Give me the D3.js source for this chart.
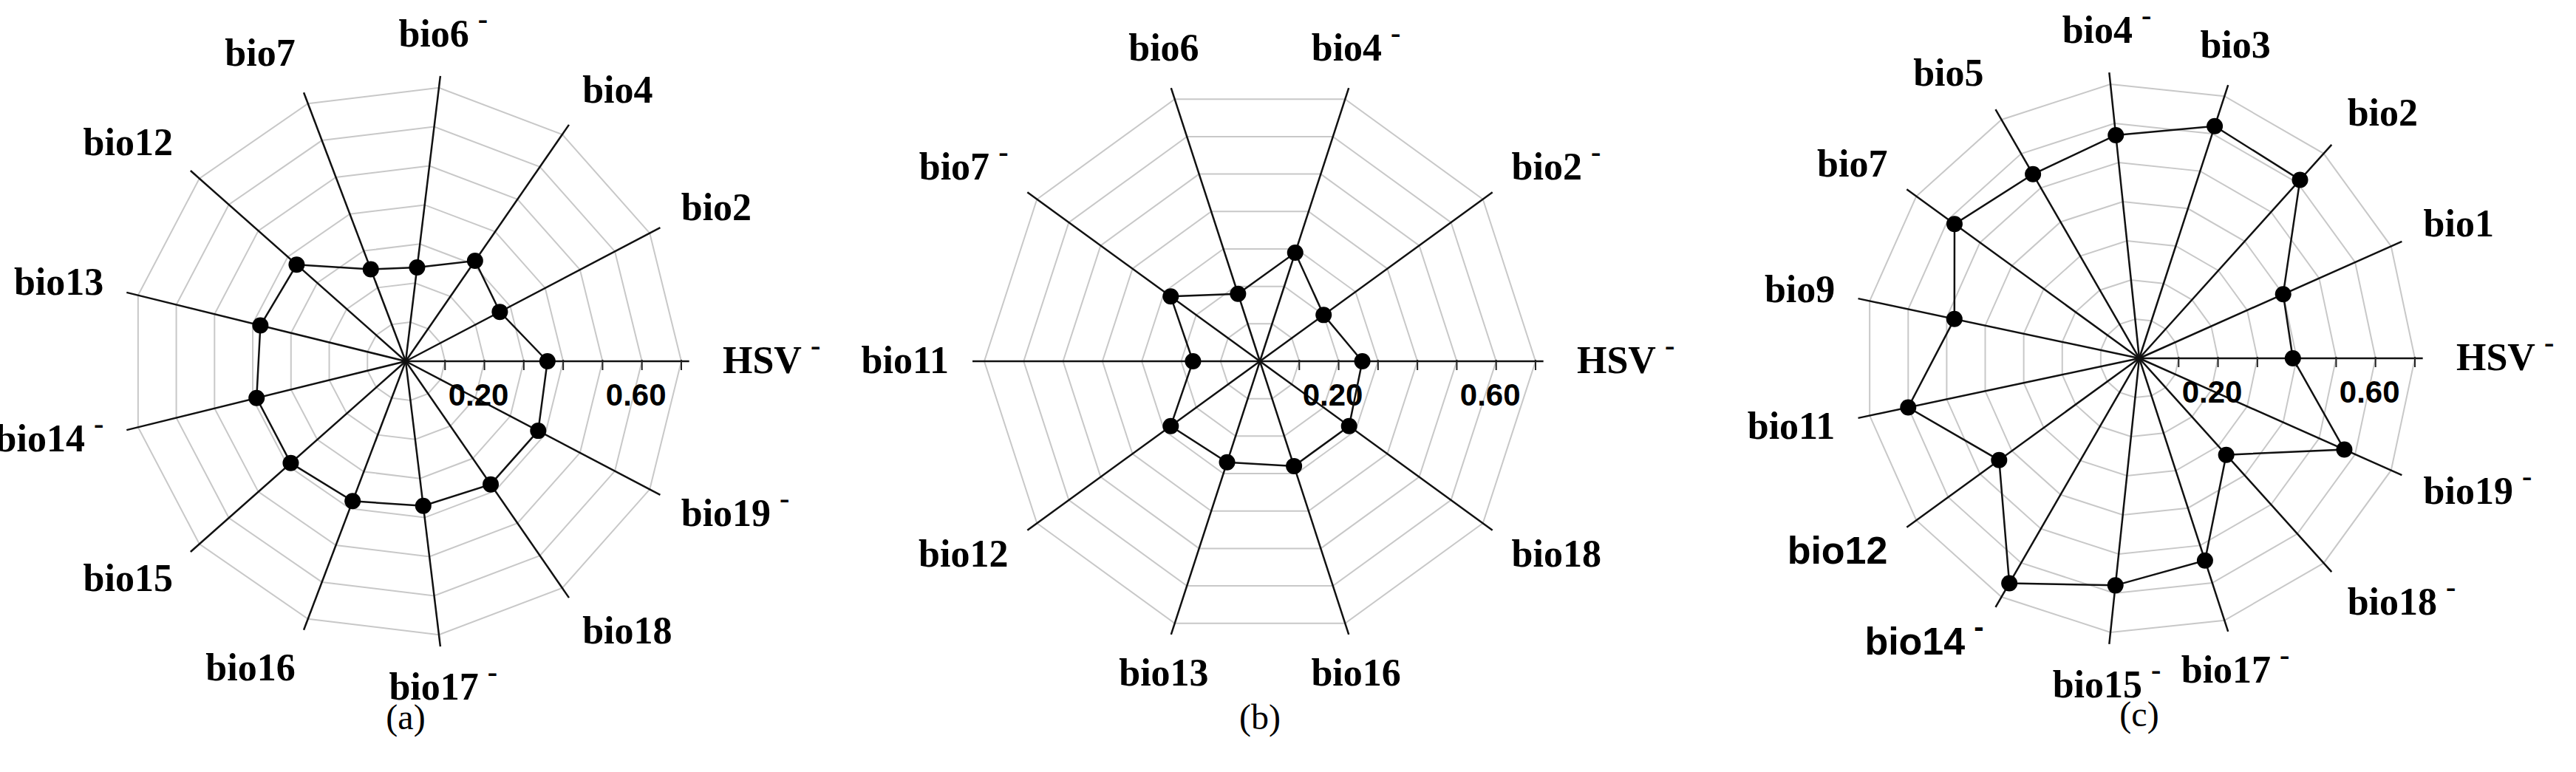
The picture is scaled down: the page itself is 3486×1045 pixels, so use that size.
<!DOCTYPE html>
<html>
<head>
<meta charset="utf-8">
<script src="https://cdn.jsdelivr.net/npm/d3@7"></script>
<style>
  body { margin: 0; background: #fff; }
  .lab { font-family: "Liberation Serif", "Times New Roman", serif; font-weight: bold; font-size: 52px; }
  .sans { font-family: "Liberation Sans", Arial, sans-serif; }
  .tick { font-family: "Liberation Sans", Arial, sans-serif; font-weight: bold; font-size: 42px; }
  .cap { font-family: "Liberation Serif", serif; font-size: 48px; }
</style>
</head>
<body>
<script>
var w = 3486;
var h = 1045;

// panel (a)
var axesA = ["HSV", "bio2", "bio4", "bio6", "bio7", "bio12", "bio13", "bio14", "bio15", "bio16", "bio17", "bio18", "bio19"];
var valuesA = [0.36, 0.27, 0.31, 0.24, 0.25, 0.37, 0.38, 0.39, 0.39, 0.38, 0.37, 0.38, 0.38];
var minusA = ["HSV", "bio6", "bio14", "bio17", "bio19"];

// panel (b)
var axesB = ["HSV", "bio2", "bio4", "bio6", "bio7", "bio11", "bio12", "bio13", "bio16", "bio18"];
var valuesB = [0.26, 0.20, 0.29, 0.18, 0.28, 0.17, 0.28, 0.27, 0.28, 0.28];
var minusB = ["HSV", "bio2", "bio4", "bio7"];

// panel (c)
var axesC = ["HSV", "bio1", "bio2", "bio3", "bio4", "bio5", "bio7", "bio9", "bio11", "bio12", "bio14", "bio15", "bio17", "bio18", "bio19"];
var valuesC = [0.39, 0.40, 0.61, 0.62, 0.57, 0.54, 0.58, 0.48, 0.60, 0.44, 0.66, 0.58, 0.54, 0.33, 0.57];
var minusC = ["HSV", "bio4", "bio14", "bio15", "bio17", "bio18", "bio19"];
var sansC = ["bio12", "bio14"];

var ringValues = [0.1, 0.2, 0.3, 0.4, 0.5, 0.6, 0.7];
var tickLabels = [0.2, 0.6];

var svg = d3.select("body").append("svg")
  .attr("width", w)
  .attr("height", h);

/**
 * Draws one radar panel.
 */
function drawRadar(cx, cy, axes, values, minus, sans, caption) {
  var r = d3.scaleLinear().domain([0, 0.7]).range([0, 373]);
  var n = axes.length;
  var ang = d3.scaleLinear().domain([0, n]).range([0, 2 * Math.PI]);
  var pt = (v, i) => [r(v) * Math.cos(ang(i)), -r(v) * Math.sin(ang(i))];

  var g = svg.append("g").attr("transform", "translate(" + [cx, cy] + ")");

  // grid rings
  g.selectAll(".ring").data(ringValues).enter().append("polygon")
    .attr("points", v => d3.range(n).map(i => pt(v, i).join(",")).join(" "))
    .attr("fill", "none")
    .attr("stroke", "#c8c8c8")
    .attr("stroke-width", 2);

  // axes
  g.selectAll(".ax").data(axes).enter().append("line")
    .attr("x1", 0).attr("y1", 0)
    .attr("x2", (d, i) => pt(i == 0 ? 0.72 : 0.73, i)[0])
    .attr("y2", (d, i) => pt(i == 0 ? 0.72 : 0.73, i)[1])
    .attr("stroke", "#111")
    .attr("stroke-width", 2.5);

  // ticks on the HSV axis
  g.selectAll(".tk").data(ringValues).enter().append("line")
    .attr("x1", d => r(d)).attr("x2", d => r(d))
    .attr("y1", -2).attr("y2", 12)
    .attr("stroke", "#222").attr("stroke-width", 2);

  g.selectAll(".tl").data(tickLabels).enter().append("text")
    .attr("class", "tick")
    .attr("x", d => r(d) - 8)
    .attr("y", 60)
    .attr("text-anchor", "middle")
    .text(d => d.toFixed(2));

  // data line and dots
  g.append("polygon")
    .attr("points", values.map((v, i) => pt(v, i).join(",")).join(" "))
    .attr("fill", "none")
    .attr("stroke", "#111")
    .attr("stroke-width", 2.5);

  g.selectAll(".dot").data(values).enter().append("circle")
    .attr("cx", (v, i) => pt(v, i)[0])
    .attr("cy", (v, i) => pt(v, i)[1])
    .attr("r", 11)
    .attr("fill", "#000");

  // axis labels
  var lab = g.selectAll(".lb").data(axes).enter().append("text")
    .attr("class", d => "lab" + (sans.indexOf(d) >= 0 ? " sans" : ""))
    .attr("x", (d, i) => pt(0.79, i)[0] + (i == 0 ? 8 : 0))
    .attr("y", (d, i) => pt(0.79, i)[1] + 16 - 24 * Math.sin(ang(i)))
    .attr("text-anchor", (d, i) => {
      var c = Math.cos(ang(i));
      return i == 0 ? "start" : c > 0.35 ? "start" : c < -0.35 ? "end" : "middle";
    });
  lab.append("tspan").text(d => d);
  lab.filter(d => minus.indexOf(d) >= 0).append("tspan")
    .attr("dx", 12).attr("dy", -24)
    .style("font-size", "40px")
    .text("-");

  g.append("text")
    .attr("class", "cap")
    .attr("x", 0).attr("y", 498)
    .attr("text-anchor", "middle")
    .text(caption);
}

drawRadar(549, 489, axesA, valuesA, minusA, [], "(a)");
drawRadar(1705, 489, axesB, valuesB, minusB, [], "(b)");
drawRadar(2895, 485, axesC, valuesC, minusC, sansC, "(c)");
</script>
</body>
</html>
